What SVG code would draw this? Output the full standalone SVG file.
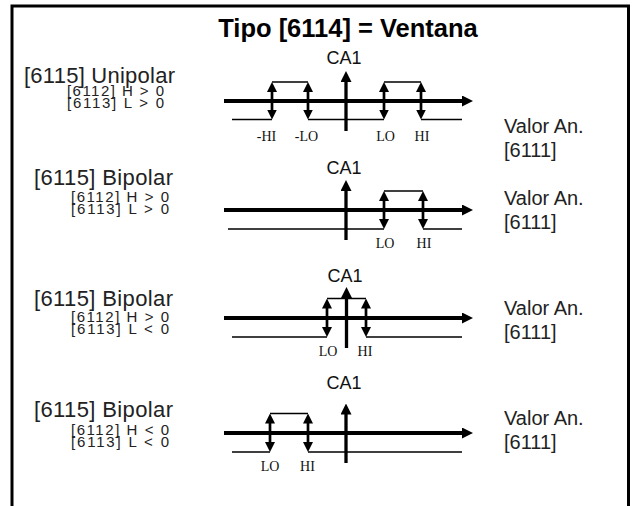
<svg xmlns="http://www.w3.org/2000/svg" width="632" height="506" viewBox="0 0 632 506">
<style>
.frame{fill:none;stroke:#000;stroke-width:3}
.title{font-family:"Liberation Sans",Arial,sans-serif;font-weight:bold;font-size:25.5px;text-anchor:middle}
.main{font-family:"Liberation Sans",Arial,sans-serif;font-size:22px;fill:#222}
.sub{font-family:"Liberation Sans",Arial,sans-serif;font-size:15px;fill:#222}
.val{font-family:"Liberation Sans",Arial,sans-serif;font-size:20px;fill:#222}
.ca{font-family:"Liberation Sans",Arial,sans-serif;font-size:18px;text-anchor:middle;fill:#111}
.lim{font-family:"Liberation Serif","Times New Roman",serif;font-size:14px;text-anchor:middle;fill:#111}
.axis{stroke:#000;stroke-width:4;fill:none}
.vax{stroke:#000;stroke-width:3.3;fill:none}
.thin{stroke:#000;stroke-width:1.3;fill:none}
.dbl{stroke:#000;stroke-width:2.7;fill:none}
</style>
<defs>
<marker id="ah" viewBox="0 0 11 11" refX="1" refY="5.5" markerWidth="11" markerHeight="11" markerUnits="userSpaceOnUse" orient="auto-start-reverse"><path d="M0,0 L11,5.5 L0,11 z" fill="#000"/></marker>
<marker id="dh" viewBox="0 0 10 10" refX="1" refY="5" markerWidth="10" markerHeight="10" markerUnits="userSpaceOnUse" orient="auto-start-reverse"><path d="M0,0 L10,5 L0,10 z" fill="#000"/></marker>
</defs>
<rect width="632" height="506" fill="#fff"/>
<path class="frame" d="M12,506 V6 H628.5 V506"/>
<text class="title" x="348" y="37">Tipo [6114] = Ventana</text>

<g id="panel1">
<text class="main" x="24" y="83" textLength="151">[6115] Unipolar</text>
<text class="sub" x="67" y="96" textLength="97">[6112] H &gt; 0</text>
<text class="sub" x="67" y="108" textLength="97">[6113] L &gt; 0</text>
<text class="val" x="504" y="133">Valor An.</text>
<text class="val" x="504" y="157">[6111]</text>
<text class="ca" x="344" y="64">CA1</text>
<text class="lim" x="266.5" y="141">-HI</text>
<text class="lim" x="306.5" y="141">-LO</text>
<text class="lim" x="385.5" y="141">LO</text>
<text class="lim" x="422" y="141">HI</text>
</g>

<g id="panel2">
<text class="main" x="34" y="185" textLength="139">[6115] Bipolar</text>
<text class="sub" x="71" y="202" textLength="98">[6112] H &gt; 0</text>
<text class="sub" x="71" y="214" textLength="98">[6113] L &gt; 0</text>
<text class="val" x="504" y="205">Valor An.</text>
<text class="val" x="504" y="229">[6111]</text>
<text class="ca" x="344" y="174">CA1</text>
<text class="lim" x="385" y="248">LO</text>
<text class="lim" x="424" y="248">HI</text>
</g>

<g id="panel3">
<text class="main" x="34" y="306" textLength="139">[6115] Bipolar</text>
<text class="sub" x="71" y="322" textLength="98">[6112] H &gt; 0</text>
<text class="sub" x="71" y="334" textLength="98">[6113] L &lt; 0</text>
<text class="val" x="504" y="315">Valor An.</text>
<text class="val" x="504" y="339">[6111]</text>
<text class="ca" x="345" y="282">CA1</text>
<text class="lim" x="328" y="356">LO</text>
<text class="lim" x="365" y="356">HI</text>
</g>

<g id="panel4">
<text class="main" x="34" y="417" textLength="139">[6115] Bipolar</text>
<text class="sub" x="71" y="435" textLength="98">[6112] H &lt; 0</text>
<text class="sub" x="71" y="447" textLength="98">[6113] L &lt; 0</text>
<text class="val" x="504" y="425">Valor An.</text>
<text class="val" x="504" y="449">[6111]</text>
<text class="ca" x="344" y="389">CA1</text>
<text class="lim" x="270" y="471">LO</text>
<text class="lim" x="307.5" y="471">HI</text>
</g>

<g id="connectors">
<!-- panel 1 -->
<path class="thin" d="M232,119.5 H272 M272,82 H308 M308,119.5 H384 M384,82 H421 M421,119.5 H462"/>
<line class="axis" x1="224" y1="101" x2="463" y2="101" marker-end="url(#ah)"/>
<line class="vax" x1="346" y1="131" x2="346" y2="81" marker-end="url(#ah)"/>
<line class="dbl" x1="272" y1="91" x2="272" y2="110.5" marker-start="url(#dh)" marker-end="url(#dh)"/>
<line class="dbl" x1="308" y1="91" x2="308" y2="110.5" marker-start="url(#dh)" marker-end="url(#dh)"/>
<line class="dbl" x1="384" y1="91" x2="384" y2="110.5" marker-start="url(#dh)" marker-end="url(#dh)"/>
<line class="dbl" x1="421" y1="91" x2="421" y2="110.5" marker-start="url(#dh)" marker-end="url(#dh)"/>
<!-- panel 2 -->
<path class="thin" d="M228,229 H384 M384,191 H423 M423,229 H462"/>
<line class="axis" x1="224" y1="210" x2="463" y2="210" marker-end="url(#ah)"/>
<line class="vax" x1="346" y1="240" x2="346" y2="190" marker-end="url(#ah)"/>
<line class="dbl" x1="384" y1="200" x2="384" y2="220" marker-start="url(#dh)" marker-end="url(#dh)"/>
<line class="dbl" x1="423" y1="200" x2="423" y2="220" marker-start="url(#dh)" marker-end="url(#dh)"/>
<!-- panel 3 -->
<path class="thin" d="M232,337 H327 M327,298.5 H366 M366,337 H462"/>
<line class="axis" x1="224" y1="318" x2="463" y2="318" marker-end="url(#ah)"/>
<line class="vax" x1="346.5" y1="348" x2="346.5" y2="297" marker-end="url(#ah)"/>
<line class="dbl" x1="327" y1="307.5" x2="327" y2="328" marker-start="url(#dh)" marker-end="url(#dh)"/>
<line class="dbl" x1="366" y1="307.5" x2="366" y2="328" marker-start="url(#dh)" marker-end="url(#dh)"/>
<!-- panel 4 -->
<path class="thin" d="M232,452 H270 M270,413.5 H308 M308,452 H462"/>
<line class="axis" x1="224" y1="433" x2="463" y2="433" marker-end="url(#ah)"/>
<line class="vax" x1="346" y1="463" x2="346" y2="413.5" marker-end="url(#ah)"/>
<line class="dbl" x1="270" y1="422.5" x2="270" y2="443" marker-start="url(#dh)" marker-end="url(#dh)"/>
<line class="dbl" x1="308" y1="422.5" x2="308" y2="443" marker-start="url(#dh)" marker-end="url(#dh)"/>
</g>
</svg>
